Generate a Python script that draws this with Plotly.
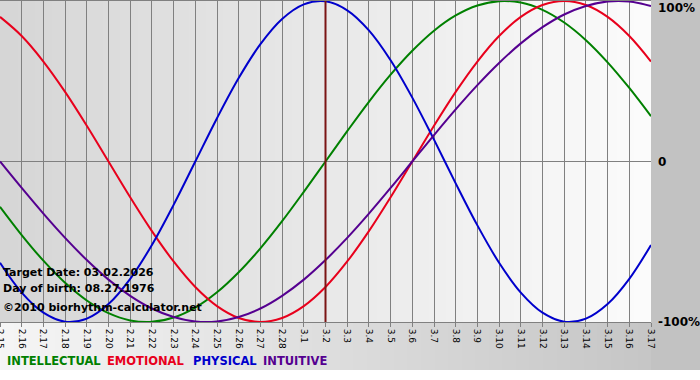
import base64
import struct
import zlib

import plotly.graph_objects as go

# ---------------- data ----------------
dates = ["2.15", "2.16", "2.17", "2.18", "2.19", "2.20", "2.21", "2.22", "2.23", "2.24",
         "2.25", "2.26", "2.27", "2.28", "3.1", "3.2", "3.3", "3.4", "3.5", "3.6",
         "3.7", "3.8", "3.9", "3.10", "3.11", "3.12", "3.13", "3.14", "3.15", "3.16", "3.17"]

intellectual = [-0.282, -0.458, -0.618, -0.756, -0.866, -0.945, -0.990, -0.999, -0.972, -0.910,
                -0.815, -0.690, -0.541, -0.372, -0.189, 0.000, 0.189, 0.372, 0.541, 0.690,
                0.815, 0.910, 0.972, 0.999, 0.990, 0.945, 0.866, 0.756, 0.618, 0.458, 0.282]

emotional = [0.901, 0.782, 0.623, 0.434, 0.223, 0.000, -0.223, -0.434, -0.623, -0.782,
             -0.901, -0.975, -1.000, -0.975, -0.901, -0.782, -0.623, -0.434, -0.223, 0.000,
             0.223, 0.434, 0.623, 0.782, 0.901, 0.975, 1.000, 0.975, 0.901, 0.782, 0.623]

physical = [-0.631, -0.817, -0.942, -0.998, -0.979, -0.888, -0.731, -0.520, -0.270, 0.000,
            0.270, 0.520, 0.731, 0.888, 0.979, 0.998, 0.942, 0.817, 0.631, 0.398,
            0.136, -0.136, -0.398, -0.631, -0.817, -0.942, -0.998, -0.979, -0.888, -0.731, -0.520]

intuitive = [0.000, -0.165, -0.325, -0.476, -0.614, -0.736, -0.837, -0.916, -0.969, -0.997,
             -0.997, -0.969, -0.916, -0.837, -0.736, -0.614, -0.476, -0.325, -0.165, 0.000,
             0.165, 0.325, 0.476, 0.614, 0.736, 0.837, 0.916, 0.969, 0.997, 0.997, 0.969]

target_date = "3.2"
series_names = ["INTELLECTUAL", "EMOTIONAL", "PHYSICAL", "INTUITIVE"]
series_colors = ["#008000", "#e8001c", "#0000cc", "#550090"]
info_lines = ["Target Date: 03.02.2026", "Day of birth: 08.27.1976", "©2010 biorhythm-calculator.net"]
y_labels = ["100%", "0", "-100%"]

# ---------------- layout geometry ----------------
W, H = 700, 380
ML, MR, MT, MB = 0, 49, 1, 58
PW = W - ML - MR
PH = H - MT - MB


def make_bg_png():
    rows = []
    plot_right = ML + PW
    plot_bottom = MT + PH
    strip_bottom = 370
    for y in range(H):
        row = bytearray([0])
        for x in range(W):
            if y < plot_bottom and x < plot_right:
                v = int(214 + (252 - 214) * x / PW)
            elif y < strip_bottom and x >= plot_right:
                v = 194
            elif y < strip_bottom:
                v = int(246 - (246 - 198) * x / PW)
            else:
                v = 255
            row += bytes((v, v, v))
        rows.append(bytes(row))
    raw = b"".join(rows)

    def chunk(tag, data):
        c = struct.pack(">I", len(data)) + tag + data
        return c + struct.pack(">I", zlib.crc32(tag + data) & 0xFFFFFFFF)

    png = b"\x89PNG\r\n\x1a\n"
    png += chunk(b"IHDR", struct.pack(">IIBBBBB", W, H, 8, 2, 0, 0, 0))
    png += chunk(b"IDAT", zlib.compress(raw, 9))
    png += chunk(b"IEND", b"")
    return "data:image/png;base64," + base64.b64encode(png).decode()


fig = go.Figure()

for name, vals, col in zip(series_names, [intellectual, emotional, physical, intuitive], series_colors):
    fig.add_trace(go.Scatter(x=dates, y=vals, mode="lines", name=name,
                             line=dict(color=col, width=2, shape="spline", smoothing=1.0),
                             hoverinfo="skip"))

fig.add_trace(go.Scatter(x=[target_date, target_date], y=[-1.02, 1.02], mode="lines",
                         line=dict(color="#7a1414", width=2), hoverinfo="skip", showlegend=False))


def py(pix):
    return (MT + PH - pix) / PH


def px(pix):
    return (pix - ML) / PW


annotations = []
for txt, yc in zip(info_lines, [272, 288, 307]):
    annotations.append(dict(text="<b>" + txt + "</b>", xref="paper", yref="paper",
                            x=px(2), y=py(yc), xanchor="left", yanchor="middle",
                            showarrow=False, borderpad=0,
                            font=dict(family="DejaVu Sans", size=11, color="#000000")))

for txt, yc in zip(y_labels, [8, 162, 322]):
    annotations.append(dict(text="<b>" + txt + "</b>", xref="paper", yref="paper",
                            x=px(657), y=py(yc), xanchor="left", yanchor="middle",
                            showarrow=False, borderpad=0,
                            font=dict(family="DejaVu Sans", size=12, color="#000000")))

for name, col, x0 in zip(series_names, series_colors, [6, 106, 192, 262]):
    annotations.append(dict(text="<b>" + name + "</b>", xref="paper", yref="paper",
                            x=px(x0), y=py(361), xanchor="left", yanchor="middle",
                            showarrow=False, borderpad=0,
                            font=dict(family="DejaVu Sans", size=11.5, color=col)))

fig.update_layout(
    width=W, height=H,
    margin=dict(l=ML, r=MR, t=MT, b=MB, pad=0, autoexpand=False),
    paper_bgcolor="#ffffff",
    plot_bgcolor="rgba(0,0,0,0)",
    showlegend=False,
    annotations=annotations,
    images=[dict(source=make_bg_png(), xref="paper", yref="paper",
                 x=px(0), y=py(0), sizex=W / PW, sizey=H / PH,
                 xanchor="left", yanchor="top", sizing="stretch", layer="below")],
    xaxis=dict(type="category", range=[0, len(dates) - 1], showgrid=True,
               gridcolor="#808080", gridwidth=1, ticks="outside", ticklen=4,
               tickcolor="#808080", tickangle=90, automargin=False,
               tickfont=dict(family="DejaVu Sans", size=9, color="#000000"),
               showline=True, linecolor="#808080", linewidth=1, mirror=True,
               zeroline=False, fixedrange=True),
    yaxis=dict(range=[-1, 1], showgrid=True, tickvals=[0], gridcolor="#808080",
               showticklabels=False, zeroline=False, showline=False, fixedrange=True,
               automargin=False),
)

fig.write_html("out.html", config={"displayModeBar": False},
               post_script="document.body.style.margin='0';document.body.style.overflow='hidden';")
